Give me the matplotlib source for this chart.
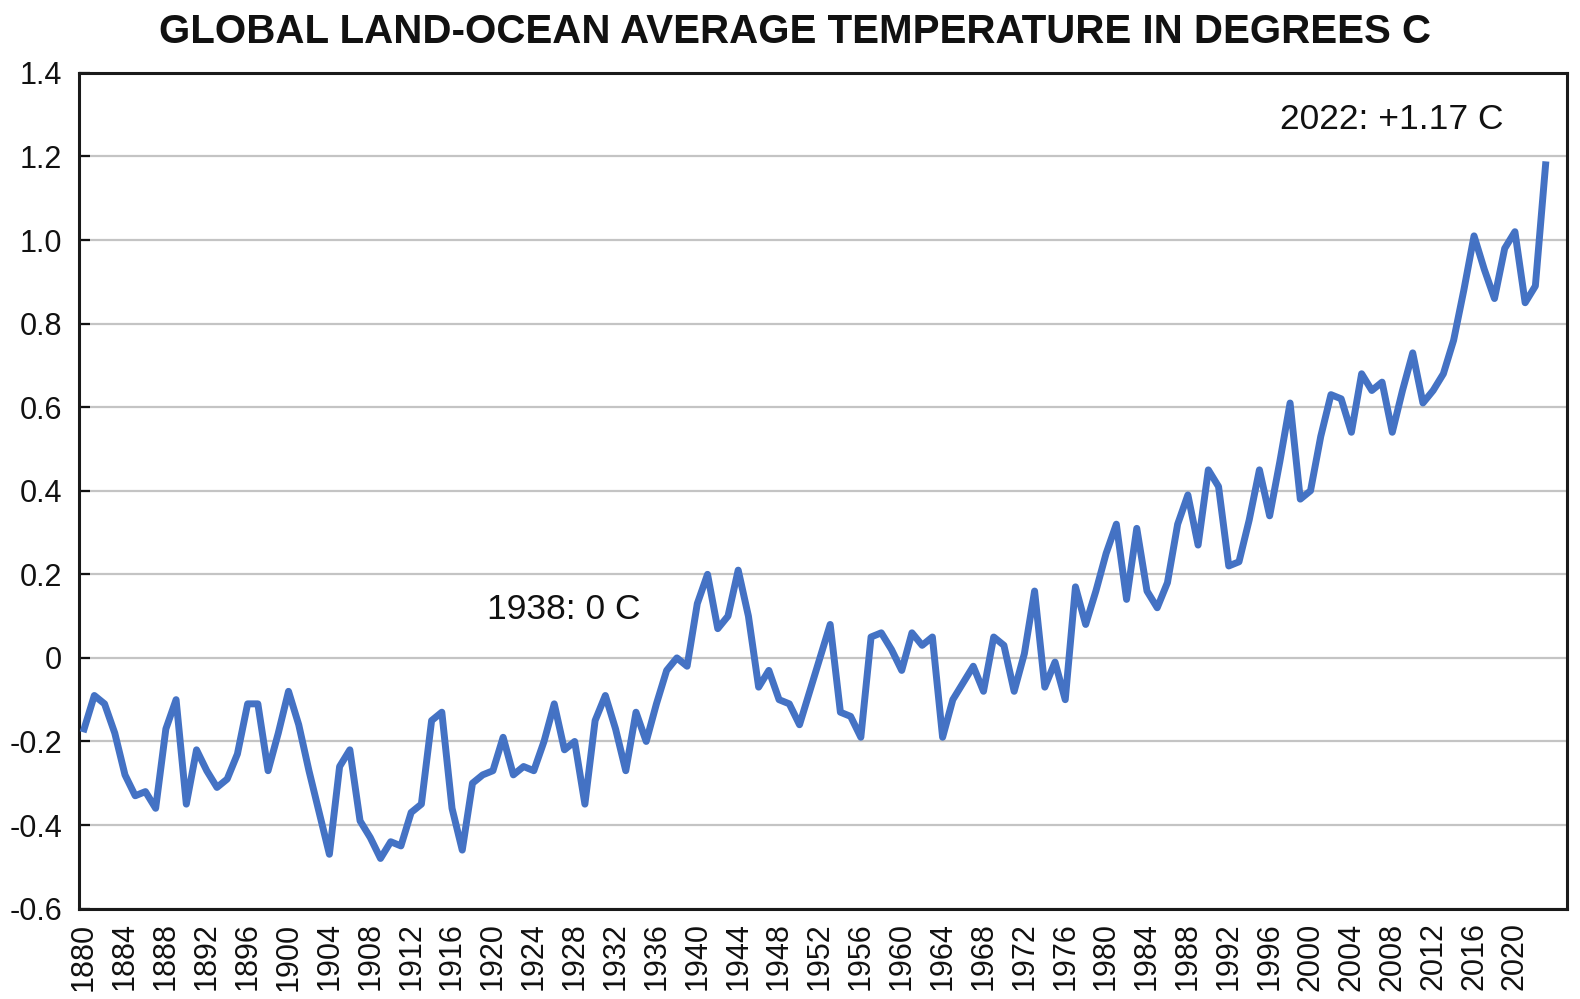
import matplotlib
matplotlib.use("Agg")
import matplotlib.pyplot as plt

plt.rcParams['font.family'] = ['Liberation Sans', 'DejaVu Sans']

years = list(range(1880, 2024))
temps = [
    -0.17, -0.09, -0.11, -0.18, -0.28, -0.33, -0.32, -0.36, -0.17, -0.10,  # 1880s
    -0.35, -0.22, -0.27, -0.31, -0.29, -0.23, -0.11, -0.11, -0.27, -0.18,  # 1890s
    -0.08, -0.16, -0.27, -0.37, -0.47, -0.26, -0.22, -0.39, -0.43, -0.48,  # 1900s
    -0.44, -0.45, -0.37, -0.35, -0.15, -0.13, -0.36, -0.46, -0.30, -0.28,  # 1910s
    -0.27, -0.19, -0.28, -0.26, -0.27, -0.20, -0.11, -0.22, -0.20, -0.35,  # 1920s
    -0.15, -0.09, -0.17, -0.27, -0.13, -0.20, -0.11, -0.03, 0.00, -0.02,   # 1930s
    0.13, 0.20, 0.07, 0.10, 0.21, 0.10, -0.07, -0.03, -0.10, -0.11,        # 1940s
    -0.16, -0.08, 0.00, 0.08, -0.13, -0.14, -0.19, 0.05, 0.06, 0.02,       # 1950s
    -0.03, 0.06, 0.03, 0.05, -0.19, -0.10, -0.06, -0.02, -0.08, 0.05,      # 1960s
    0.03, -0.08, 0.01, 0.16, -0.07, -0.01, -0.10, 0.17, 0.08, 0.16,        # 1970s
    0.25, 0.32, 0.14, 0.31, 0.16, 0.12, 0.18, 0.32, 0.39, 0.27,            # 1980s
    0.45, 0.41, 0.22, 0.23, 0.33, 0.45, 0.34, 0.47, 0.61, 0.38,            # 1990s
    0.40, 0.53, 0.63, 0.62, 0.54, 0.68, 0.64, 0.66, 0.54, 0.64,            # 2000s
    0.73, 0.61, 0.64, 0.68, 0.76, 0.88, 1.01, 0.93, 0.86, 0.98,            # 2010s
    1.02, 0.85, 0.89, 1.18,                                                # 2020s
]

xtick_years = list(range(1880, 2021, 4))
ytick_vals = [-0.6, -0.4, -0.2, 0, 0.2, 0.4, 0.6, 0.8, 1.0, 1.2, 1.4]
ytick_labels = ["-0.6", "-0.4", "-0.2", "0", "0.2", "0.4", "0.6", "0.8", "1.0", "1.2", "1.4"]

fig = plt.figure(figsize=(15.8, 9.99), dpi=100)
ax = fig.add_axes([0.05, 0.0905, 0.9418, 0.8365])

ax.plot(years, temps, color="#4472C4", lw=5.0, solid_joinstyle="round", zorder=3)

ax.set_xlim(1879.5, 2025.1)
ax.set_ylim(-0.6, 1.4)

ax.set_yticks(ytick_vals)
ax.set_yticklabels(ytick_labels)
ax.set_xticks(xtick_years)
ax.set_xticklabels([str(y) for y in xtick_years], rotation=90)

ax.yaxis.grid(True, color="#C4C4C4", lw=1.6, zorder=0)
ax.set_axisbelow(True)

ax.tick_params(axis="y", direction="in", length=8, width=1.6, labelsize=22, pad=12, colors="#111111")
ax.tick_params(axis="x", length=0, labelsize=22, pad=10, colors="#111111")

for s in ax.spines.values():
    s.set_linewidth(2.2)
    s.set_color("#1a1a1a")

ax.text(1997.0, 1.288, "2022: +1.17 C", fontsize=25.5, ha="left", va="center", color="#111111")
ax.text(1919.4, 0.115, "1938: 0 C", fontsize=25.5, ha="left", va="center", color="#111111")

fig.text(0.503, 0.968, "GLOBAL LAND-OCEAN AVERAGE TEMPERATURE IN DEGREES C",
         fontsize=29, fontweight="bold", ha="center", va="center", color="#111111")

fig.savefig("out.png", dpi=100)
